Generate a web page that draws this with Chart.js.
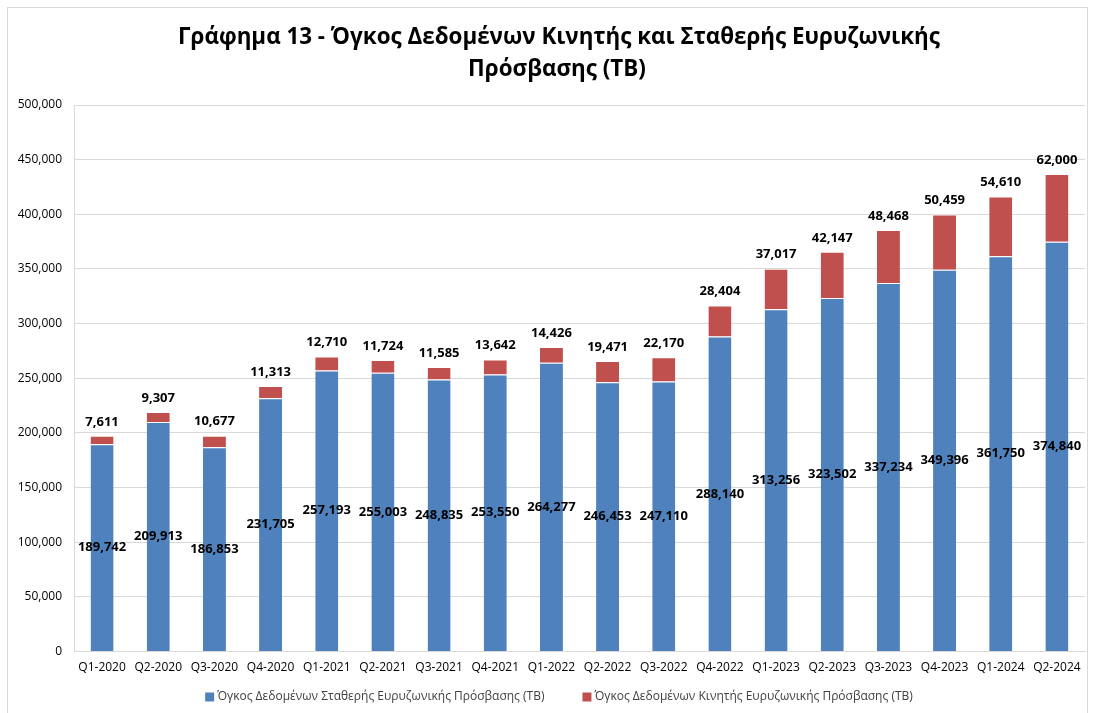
<!DOCTYPE html>
<html>
<head>
<meta charset="utf-8">
<script src="https://cdn.jsdelivr.net/npm/chart.js@4/dist/chart.umd.min.js"></script>
<style>
html,body{margin:0;padding:0;background:#fff;}
#wrap{position:absolute;left:0;top:0;width:1094px;height:713px;}
</style>
</head>
<body>
<div id="wrap"><canvas id="c" width="1094" height="713"></canvas></div>
<script>
const categories = ["Q1-2020","Q2-2020","Q3-2020","Q4-2020","Q1-2021","Q2-2021","Q3-2021","Q4-2021","Q1-2022","Q2-2022","Q3-2022","Q4-2022","Q1-2023","Q2-2023","Q3-2023","Q4-2023","Q1-2024","Q2-2024"];
const fixedValues = [189742,209913,186853,231705,257193,255003,248835,253550,264277,246453,247110,288140,313256,323502,337234,349396,361750,374840];
const mobileValues = [7611,9307,10677,11313,12710,11724,11585,13642,14426,19471,22170,28404,37017,42147,48468,50459,54610,62000];
const fixedLabel = "Όγκος Δεδομένων Σταθερής Ευρυζωνικής Πρόσβασης (TB)";
const mobileLabel = "Όγκος Δεδομένων Κινητής Ευρυζωνικής Πρόσβασης (TB)";
const titleLines = ["Γράφημα 13 - Όγκος Δεδομένων Κινητής και Σταθερής Ευρυζωνικής", "Πρόσβασης (TB)"];

const fmt = v => v.toLocaleString('en-US');
const FONT = "'Open Sans', 'Liberation Sans', sans-serif";

const framePlugin = {
  id: 'frame',
  beforeDraw(chart) {
    const ctx = chart.ctx;
    ctx.save();
    ctx.fillStyle = '#fff';
    ctx.fillRect(0, 0, chart.width, chart.height);
    ctx.strokeStyle = '#d9d9d9';
    ctx.lineWidth = 1;
    ctx.strokeRect(7.5, 7.5, 1080, 720);
    ctx.restore();
  },
  afterDraw(chart) {
    const ctx = chart.ctx;
    ctx.save();
    // title
    ctx.font = "bold 22.4px " + FONT;
    ctx.fillStyle = '#000';
    ctx.textAlign = 'center';
    ctx.textBaseline = 'middle';
    ctx.fillText(titleLines[0], 559, 38);
    ctx.fillText(titleLines[1], 557, 70);
    // legend
    ctx.font = "12px " + FONT;
    ctx.textAlign = 'left';
    const ds = chart.data.datasets;
    const gap = 38, box = 9, boxGap = 3;
    const widths = ds.map(d => box + boxGap + ctx.measureText(d.label).width);
    const total = widths.reduce((a, b) => a + b, 0) + gap * (ds.length - 1);
    let x = 559 - total / 2;
    const y = 697;
    ds.forEach((d, i) => {
      ctx.fillStyle = d.backgroundColor;
      ctx.fillRect(x, y - box / 2, box, box);
      ctx.fillStyle = '#404040';
      ctx.fillText(d.label, x + box + boxGap, y);
      x += widths[i] + gap;
    });
    ctx.restore();
  }
};

const labelPlugin = {
  id: 'valueLabels',
  afterDatasetsDraw(chart) {
    const ctx = chart.ctx;
    ctx.save();
    ctx.font = "bold 13px " + FONT;
    ctx.fillStyle = '#000';
    ctx.textAlign = 'center';
    ctx.textBaseline = 'middle';
    const m0 = chart.getDatasetMeta(0);
    const m1 = chart.getDatasetMeta(1);
    m0.data.forEach((el, i) => {
      const cy = (el.y + el.base) / 2;
      ctx.fillText(fmt(fixedValues[i]), el.x, cy);
    });
    m1.data.forEach((el, i) => {
      ctx.fillText(fmt(mobileValues[i]), el.x, el.y - 14);
    });
    ctx.restore();
  }
};

new Chart(document.getElementById('c'), {
  type: 'bar',
  data: {
    labels: categories,
    datasets: [
      { label: fixedLabel, data: fixedValues, backgroundColor: '#4F81BD', borderColor: '#ffffff', borderWidth: {top:1,left:0,right:0,bottom:0}, borderSkipped: false },
      { label: mobileLabel, data: mobileValues, backgroundColor: '#C0504D', borderColor: '#ffffff', borderWidth: {top:1,left:0,right:0,bottom:0}, borderSkipped: false }
    ]
  },
  options: {
    responsive: false,
    animation: false,
    devicePixelRatio: 1,
    layout: { padding: { left: 7, right: 9, top: 105, bottom: 29 } },
    datasets: { bar: { categoryPercentage: 1, barPercentage: 0.41 } },
    scales: {
      x: {
        stacked: true,
        grid: { display: false, drawTicks: false },
        border: { color: '#d9d9d9' },
        ticks: { color: '#000', font: { family: FONT, size: 12 }, padding: 9, maxRotation: 0, autoSkip: false }
      },
      y: {
        stacked: true,
        min: 0, max: 500000,
        ticks: { stepSize: 50000, color: '#000', font: { family: FONT, size: 12 }, padding: 12, callback: v => fmt(v) },
        grid: { color: '#d9d9d9', drawTicks: false },
        border: { color: '#d9d9d9' },
        afterFit(s) { s.width = 67; }
      }
    },
    plugins: {
      title: { display: false },
      legend: { display: false },
      tooltip: { enabled: false }
    }
  },
  plugins: [framePlugin, labelPlugin]
});
</script>
</body>
</html>
